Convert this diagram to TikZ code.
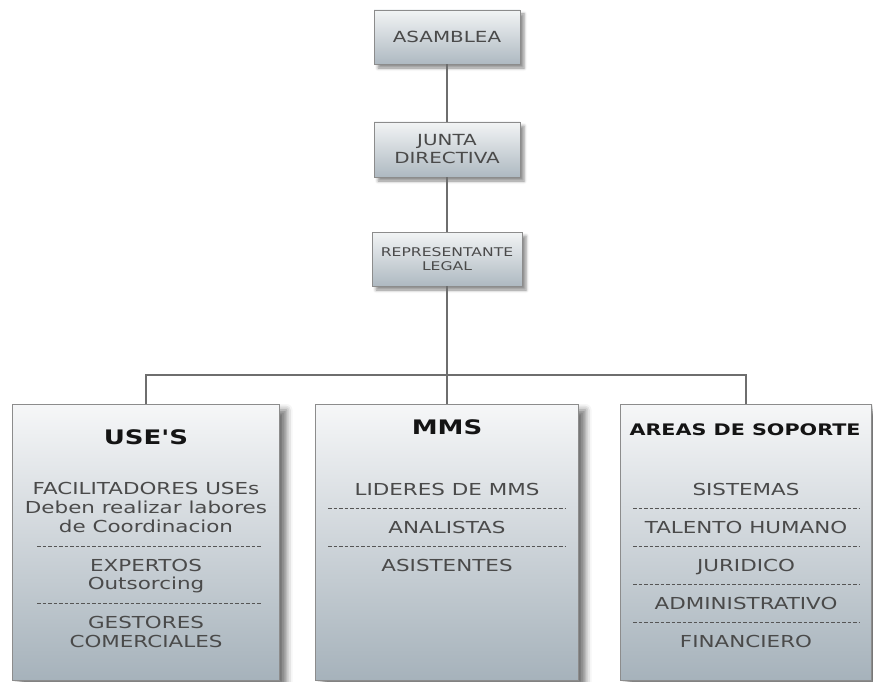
\documentclass[tikz,border=0pt]{standalone}
\usepackage{fontspec}
\setmainfont[FakeStretch=1.3]{DejaVu Sans}
\newfontfamily\plainbold[FakeStretch=1.3, Ligatures=ResetAll]{DejaVu Sans Bold}
\usetikzlibrary{shadows.blur}

\definecolor{boxline}{HTML}{8C8C8C}
\definecolor{boxtop}{HTML}{F6F7F8}
\definecolor{boxbot}{HTML}{A6B2BB}
\definecolor{smalltop}{HTML}{F2F4F5}
\definecolor{smallbot}{HTML}{AEB9C1}
\definecolor{itemtext}{HTML}{4A4A4A}
\definecolor{titletext}{HTML}{141414}
\definecolor{wire}{HTML}{6E6E6E}
\definecolor{sepline}{HTML}{555555}

\tikzset{
  x=1pt, y=-1pt,
  smallbox/.style={draw=boxline, line width=0.8pt, inner sep=0pt,
    top color=smalltop, bottom color=smallbot,
    blur shadow={shadow xshift=4pt, shadow yshift=-4pt,
      shadow blur radius=3pt, shadow opacity=45}},
  bigbox/.style={draw=boxline, line width=0.8pt, inner sep=0pt,
    top color=boxtop, bottom color=boxbot,
    blur shadow={shadow xshift=7pt, shadow yshift=-6pt,
      shadow blur radius=6pt, shadow opacity=55}},
  toptext/.style={anchor=base, inner sep=0pt, text=itemtext,
    font=\fontsize{15.3}{18}\selectfont},
  reptext/.style={anchor=base, inner sep=0pt, text=itemtext,
    font=\fontsize{12}{15}\selectfont},
  title/.style={anchor=base, inner sep=0pt, text=titletext,
    font=\fontsize{20}{24}\selectfont\plainbold},
  subtitle/.style={anchor=base, inner sep=0pt, text=titletext,
    font=\fontsize{15.9}{19}\selectfont\bfseries},
  item/.style={anchor=base, inner sep=0pt, text=itemtext,
    font=\fontsize{16.5}{19}\selectfont},
  wireline/.style={draw=wire, line width=1.2pt},
  sep/.style={draw=sepline, line width=0.9pt, dash pattern=on 3.5pt off 2pt}
}

\begin{document}
\begin{tikzpicture}
  \useasboundingbox (0,0) rectangle (873,682);

  % --- chain of command ---
  \node[smallbox, minimum width=146, minimum height=54] (asamblea) at (447,37) {};
  \node[smallbox, minimum width=146, minimum height=55] (junta) at (447,149.5) {};
  \node[smallbox, minimum width=150, minimum height=54] (rep) at (447,259) {};

  % --- departments ---
  \node[bigbox, minimum width=267, minimum height=276] (use) at (146,542) {};
  \node[bigbox, minimum width=263, minimum height=276] (mms) at (447,542) {};
  \node[bigbox, minimum width=251, minimum height=276] (areas) at (746,542) {};

  % --- connectors ---
  \coordinate (bus) at (447,375);
  \draw[wireline] (asamblea.south) -- (junta.north);
  \draw[wireline] (junta.south) -- (rep.north);
  \draw[wireline] (rep.south) -- (mms.north);
  \draw[wireline] (use.north) |- (bus) -| (areas.north);

  % --- labels of the upper boxes ---
  \node[toptext] (t1) at (447,43) {ASAMBLEA};
  \node[toptext] (t2) at (447,146) {JUNTA};
  \node[toptext] (t3) at (447,164) {DIRECTIVA};
  \node[reptext] (t4) at (447,256) {REPRESENTANTE};
  \node[reptext] (t5) at (447,270) {LEGAL};

  % --- USE'S ---
  \node[title] (useT) at (146,444) {USE'S};
  \node[item] (u1) at (146,494) {FACILITADORES USEs};
  \node[item] (u2) at (146,513) {Deben realizar labores};
  \node[item] (u3) at (146,532) {de Coordinacion};
  \draw[sep] (37,546) -- (262,546);
  \node[item] (u4) at (146,571) {EXPERTOS};
  \node[item] (u5) at (146,589) {Outsorcing};
  \draw[sep] (37,603) -- (262,603);
  \node[item] (u6) at (146,628) {GESTORES};
  \node[item] (u7) at (146,647) {COMERCIALES};

  % --- MMS ---
  \node[title] (mmsT) at (447,434) {MMS};
  \node[item] (m1) at (447,495) {LIDERES DE MMS};
  \draw[sep] (328,508) -- (565,508);
  \node[item] (m2) at (447,533) {ANALISTAS};
  \draw[sep] (328,546) -- (565,546);
  \node[item] (m3) at (447,571) {ASISTENTES};

  % --- AREAS DE SOPORTE ---
  \node[subtitle] (areasT) at (745,435) {AREAS DE SOPORTE};
  \node[item] (a1) at (746,495) {SISTEMAS};
  \draw[sep] (633,508) -- (860,508);
  \node[item] (a2) at (746,533) {TALENTO HUMANO};
  \draw[sep] (633,546) -- (860,546);
  \node[item] (a3) at (746,571) {JURIDICO};
  \draw[sep] (633,584) -- (860,584);
  \node[item] (a4) at (746,609) {ADMINISTRATIVO};
  \draw[sep] (633,622) -- (860,622);
  \node[item] (a5) at (746,647) {FINANCIERO};
\end{tikzpicture}
\end{document}
